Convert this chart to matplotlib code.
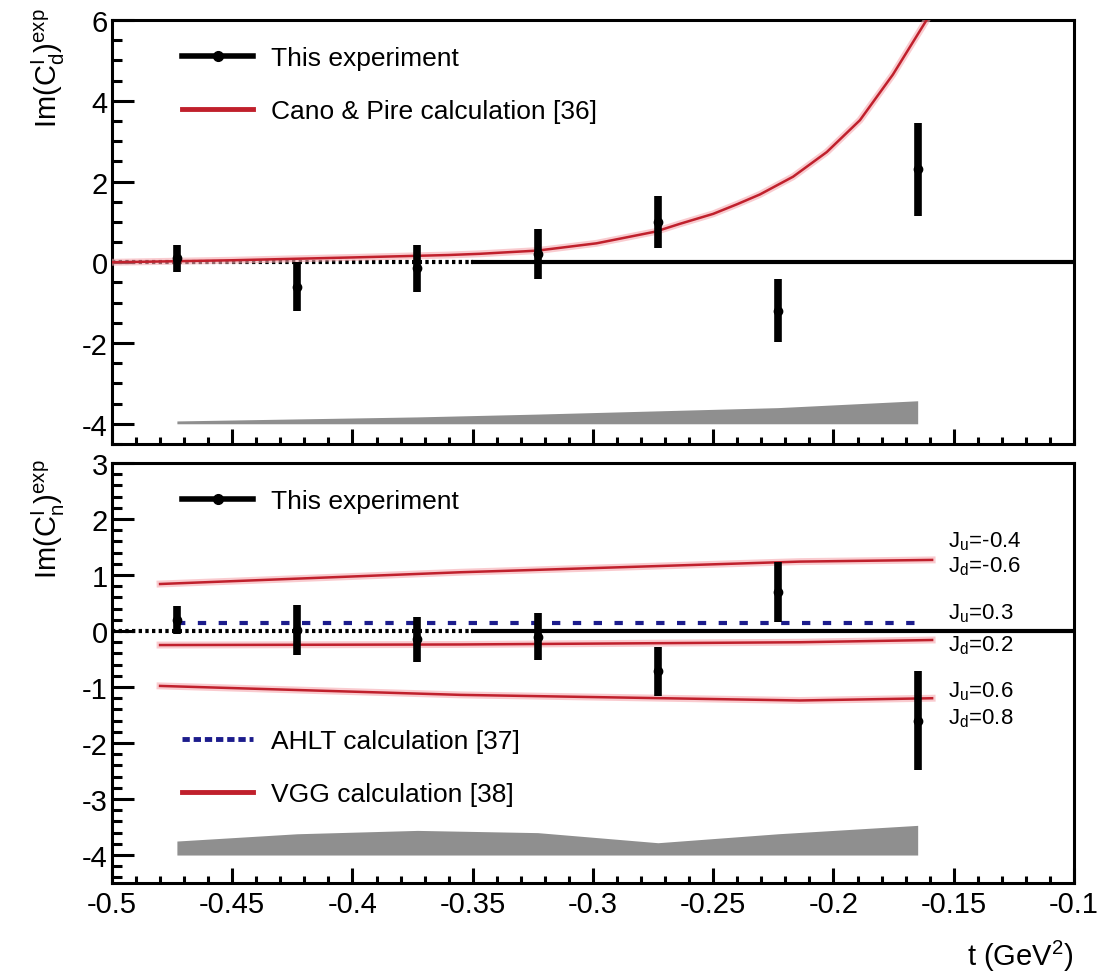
import matplotlib
matplotlib.use("Agg")
import matplotlib.pyplot as plt
from matplotlib.lines import Line2D
from matplotlib.ticker import MultipleLocator, FormatStrFormatter

plt.rcParams["font.family"] = ["Liberation Sans", "DejaVu Sans"]
plt.rcParams["mathtext.fontset"] = "custom"
plt.rcParams["mathtext.rm"] = "Liberation Sans"
plt.rcParams["mathtext.it"] = "Liberation Sans:italic"
plt.rcParams["axes.unicode_minus"] = False

# ── measured points (same t bins for both panels) ───────────────────────────
t_bins = [-0.473, -0.423, -0.373, -0.323, -0.273, -0.223, -0.165]

im_d = [0.1, -0.6, -0.15, 0.2, 1.0, -1.2, 2.3]
im_d_err = [0.33, 0.6, 0.58, 0.62, 0.65, 0.78, 1.15]
im_d_sys = [-3.93, -3.88, -3.83, -3.76, -3.68, -3.6, -3.43]

im_n = [0.2, 0.02, -0.15, -0.1, -0.72, 0.7, -1.6]
im_n_err = [0.25, 0.44, 0.4, 0.42, 0.44, 0.54, 0.88]
im_n_sys = [-3.75, -3.62, -3.56, -3.6, -3.78, -3.62, -3.47]

sys_floor = -4.0

# ── model curves ────────────────────────────────────────────────────────────
cano_t = [-0.5, -0.45, -0.4, -0.36, -0.347, -0.323, -0.2985, -0.274, -0.264,
          -0.25, -0.24, -0.2306, -0.2168, -0.2028, -0.189, -0.1753, -0.1613]
cano_val = [0.0, 0.05, 0.12, 0.18, 0.21, 0.29, 0.47, 0.76, 0.95,
            1.2, 1.44, 1.68, 2.12, 2.73, 3.52, 4.65, 6.0]

vgg_t = [-0.48, -0.355, -0.214, -0.159]
vgg_hi = [0.84, 1.05, 1.24, 1.27]     # Ju=-0.4, Jd=-0.6
vgg_mid = [-0.25, -0.24, -0.2, -0.16]  # Ju=0.3,  Jd=0.2
vgg_lo = [-0.98, -1.14, -1.24, -1.2]   # Ju=0.6,  Jd=0.8

ahlt_t = [-0.473, -0.165]
ahlt_val = [0.15, 0.15]

vgg_tags = [
    (r"J$_{\rm u}$=-0.4", 1.62), (r"J$_{\rm d}$=-0.6", 1.17),
    (r"J$_{\rm u}$=0.3", 0.33), (r"J$_{\rm d}$=0.2", -0.24),
    (r"J$_{\rm u}$=0.6", -1.06), (r"J$_{\rm d}$=0.8", -1.54),
]

RED = "#c0202c"
HALO = "#f6a9b0"
BLUE = "#1c1c8c"


def style_axes(ax, ymajor, yminor):
    for sp in ax.spines.values():
        sp.set_linewidth(2.2)
    ax.set_xlim(-0.5, -0.1)
    ax.xaxis.set_major_locator(MultipleLocator(0.05))
    ax.xaxis.set_minor_locator(MultipleLocator(0.01))
    ax.xaxis.set_major_formatter(FormatStrFormatter("%g"))
    ax.yaxis.set_major_locator(MultipleLocator(ymajor))
    ax.yaxis.set_minor_locator(MultipleLocator(yminor))
    ax.yaxis.set_major_formatter(FormatStrFormatter("%g"))
    ax.tick_params(which="both", direction="in", width=2.2, labelsize=21,
                   top=False, right=False)
    ax.tick_params(axis="y", which="major", length=16, pad=3)
    ax.tick_params(axis="y", which="minor", length=7.5)
    ax.tick_params(axis="x", which="major", length=11, pad=5)
    ax.tick_params(axis="x", which="minor", length=5)


def zero_line(ax):
    ax.plot([-0.5, -0.35], [0, 0], color="black", lw=3,
            linestyle=(0, (0.8, 0.8)), zorder=2)
    ax.plot([-0.35, -0.1], [0, 0], color="black", lw=3, zorder=2)


def red_curve(ax, x, y):
    ax.plot(x, y, color=HALO, lw=5, alpha=0.6, zorder=3)
    ax.plot(x, y, color=RED, lw=1.8, zorder=3)


def data_points(ax, y, yerr):
    ax.errorbar(t_bins, y, yerr=yerr, fmt="o", color="black", ms=6,
                elinewidth=5.5, capsize=0, zorder=5)


fig = plt.figure(figsize=(11.02, 9.79), dpi=100)
ax1 = fig.add_axes([0.1016, 0.5455, 0.873, 0.433])
ax2 = fig.add_axes([0.1016, 0.0970, 0.873, 0.429])

exp_handle = Line2D([], [], color="black", lw=4, marker="o", ms=7)
leg_kw = dict(loc="upper left", frameon=False, fontsize=19, handlelength=2.7,
              handletextpad=0.65, labelspacing=1.1, borderpad=0,
              borderaxespad=0)

# ── top panel: deuteron coefficient ─────────────────────────────────────────
style_axes(ax1, 2, 0.5)
ax1.set_ylim(-4.5, 6)
ax1.tick_params(axis="x", labelbottom=False)
ax1.fill_between(t_bins, sys_floor, im_d_sys, color="#8f8f8f", lw=0, zorder=1)
zero_line(ax1)
red_curve(ax1, cano_t, cano_val)
data_points(ax1, im_d, im_d_err)
ax1.set_ylabel(r"Im(C$^{\rm I}_{\rm d}$)$^{\rm exp}$", fontsize=21, loc="top")
ax1.yaxis.set_label_coords(-0.047, 1.03)

ax1.legend(
    [exp_handle, Line2D([], [], color=RED, lw=3.5)],
    ["This experiment", "Cano & Pire calculation [36]"],
    bbox_to_anchor=(0.073, 0.938), **leg_kw)

# ── bottom panel: neutron coefficient ───────────────────────────────────────
style_axes(ax2, 1, 0.2)
ax2.set_ylim(-4.5, 3)
ax2.fill_between(t_bins, sys_floor, im_n_sys, color="#8f8f8f", lw=0, zorder=1)
zero_line(ax2)
for vals in (vgg_hi, vgg_mid, vgg_lo):
    red_curve(ax2, vgg_t, vals)
ax2.plot(ahlt_t, ahlt_val, color=BLUE, lw=3, linestyle=(0, (2, 3)), zorder=4)
data_points(ax2, im_n, im_n_err)
for txt, yv in vgg_tags:
    ax2.text(-0.1525, yv, txt, fontsize=16, va="center", ha="left")

ax2.set_ylabel(r"Im(C$^{\rm I}_{\rm n}$)$^{\rm exp}$", fontsize=21, loc="top")
ax2.yaxis.set_label_coords(-0.047, 1.01)
ax2.set_xlabel(r"t (GeV$^{2}$)", fontsize=21, loc="right")
ax2.xaxis.set_label_coords(1.0, -0.13)

leg2a = ax2.legend([exp_handle], ["This experiment"],
                   bbox_to_anchor=(0.073, 0.938), **leg_kw)
ax2.add_artist(leg2a)
ax2.legend(
    [Line2D([], [], color=BLUE, lw=3.5, linestyle=(0, (1.5, 0.8))),
     Line2D([], [], color=RED, lw=3.5)],
    ["AHLT calculation [37]", "VGG calculation [38]"],
    bbox_to_anchor=(0.073, 0.366), **leg_kw)

fig.savefig("out.png", dpi=100)
